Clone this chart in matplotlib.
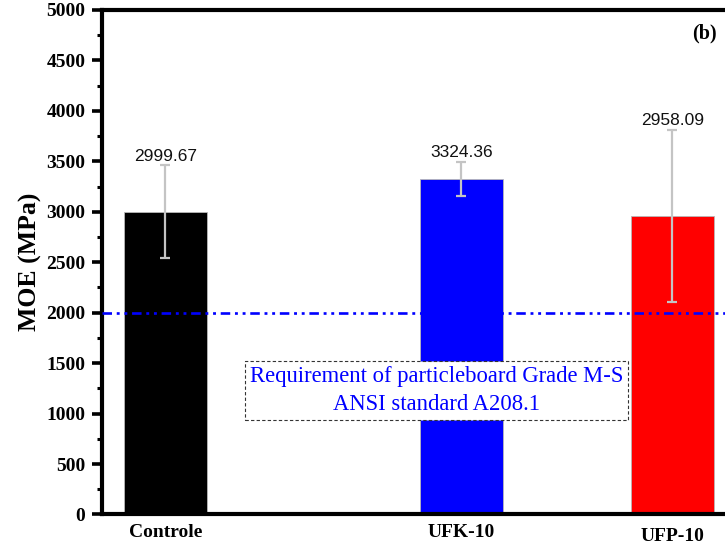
import matplotlib
matplotlib.use("Agg")
import matplotlib.pyplot as plt
from matplotlib.transforms import ScaledTranslation
import numpy as np

# MOE of the boards
groups = ["Controle", "UFK-10", "UFP-10"]
moe = [2999.67, 3324.36, 2958.09]
moe_err = [460, 170, 855]
bar_colors = ["#000000", "#0000ff", "#ff0000"]
ansi_min = 2000
note = "Requirement of particleboard Grade M-S\nANSI standard A208.1"

serif = ["Liberation Serif", "DejaVu Serif"]
sans = ["Liberation Sans", "DejaVu Sans"]

fig = plt.figure(figsize=(7.25, 5.45), dpi=100)
# axes runs past the right edge of the canvas on purpose
ax = fig.add_axes([0.1407, 0.056, 0.907, 0.9257])

xpos = np.array([0.0, 1.0, 1.713])
ax.bar(xpos, moe, width=0.28, color=bar_colors, edgecolor="#b8b8b8",
       linewidth=0.6, zorder=2)
ax.errorbar(xpos, moe, yerr=moe_err, fmt="none", ecolor="#c4c4c4",
            elinewidth=1.6, capsize=3.3, capthick=1.6, zorder=3)

for x, v, e in zip(xpos, moe, moe_err):
    ax.annotate(f"{v:.2f}", (x, v + e), xytext=(0, 3.5),
                textcoords="offset points", ha="center", va="baseline",
                fontsize=12.5, family=sans, color="#111111")

ax.axhline(ansi_min, color="#0000ff", lw=1.9,
           linestyle=(0, (3.6, 1.8, 1.1, 1.8, 1.1, 1.8)), zorder=4)

ax.text(0.915, 1228, note, ha="center", va="center", multialignment="center",
        fontsize=16.3, family=serif, color="#0000ff", linespacing=1.4,
        bbox=dict(boxstyle="square,pad=0.22", facecolor="white",
                  edgecolor="#333333", linestyle=(0, (3, 2)), linewidth=0.8),
        zorder=5)

ax.text(1.82, 4765, "(b)", ha="center", va="center", fontsize=14.5,
        fontweight="bold", family=serif)

ax.set_xlim(-0.2145, 2.008)
ax.set_ylim(0, 5000)
ax.set_yticks(np.arange(0, 5001, 500))
ax.set_yticks(np.arange(250, 5000, 500), minor=True)
ax.set_xticks(xpos)
ax.set_xticklabels(groups)

ax.tick_params(axis="y", which="major", direction="out", length=7, width=2.6,
               pad=5)
ax.tick_params(axis="y", which="minor", direction="out", length=3.5, width=2.2)
ax.tick_params(axis="x", which="both", length=0, pad=7)

for lab in ax.get_yticklabels() + ax.get_xticklabels():
    lab.set_family(serif)
    lab.set_fontweight("bold")
    lab.set_fontsize(14)

# last group label sits a little lower
last = ax.get_xticklabels()[-1]
last.set_transform(last.get_transform() +
                   ScaledTranslation(0, -3 / 72, fig.dpi_scale_trans))

ax.set_ylabel("MOE (MPa)", family=serif, fontweight="bold", fontsize=18.5,
              labelpad=3)

for side in ["left", "top", "bottom", "right"]:
    ax.spines[side].set_linewidth(3)

fig.savefig("out.png", dpi=100)
